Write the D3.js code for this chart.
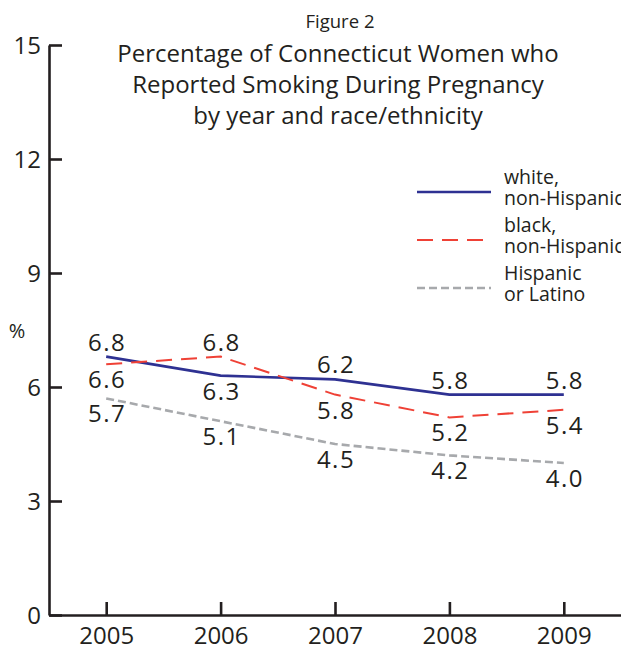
<!DOCTYPE html>
<html><head><meta charset="utf-8">
<script src="https://cdn.jsdelivr.net/npm/d3@7"></script>
<style>
html,body{margin:0;padding:0;background:#fff;}
svg text{font-family:"Open Sans",sans-serif;fill:#231F20;}
</style></head>
<body><svg id="c" width="621" height="648"></svg>
<script>
const years = [2005, 2006, 2007, 2008, 2009];
const yTicks = [0, 3, 6, 9, 12, 15];
const white = [6.8, 6.3, 6.2, 5.8, 5.8];
const black = [6.6, 6.8, 5.8, 5.2, 5.4];
const hispanic = [5.7, 5.1, 4.5, 4.2, 4.0];
const whiteLabelPos = ["above", "below", "above", "above", "above"];
const blackLabelPos = ["below", "above", "below", "below", "below"];
const hispLabelPos = ["below", "below", "below", "below", "below"];
const titleLines = ["Percentage of Connecticut Women who", "Reported Smoking During Pregnancy", "by year and race/ethnicity"];
const figLabel = "Figure 2";
const legendLabels = [["white,", "non-Hispanic"], ["black,", "non-Hispanic"], ["Hispanic", "or Latino"]];

const series = [
  {name: "white", values: white, pos: whiteLabelPos, color: "#2E3192", width: 2.6, dash: null},
  {name: "black", values: black, pos: blackLabelPos, color: "#EF4136", width: 2, dash: "16,9"},
  {name: "hisp", values: hispanic, pos: hispLabelPos, color: "#A7A9AC", width: 2.6, dash: "8,4"}
];

const svg = d3.select("#c");
const x = d3.scalePoint().domain(years).range([49, 621]).padding(0.5);
const y = d3.scaleLinear().domain([0, 15]).range([615, 45]);
const ink = "#231F20";

// Y axis
const ya = svg.append("g").attr("transform", "translate(49,0)")
  .call(d3.axisLeft(y).tickValues(yTicks).tickSizeInner(-13).tickSizeOuter(0).tickPadding(8));
ya.select(".domain").attr("stroke", ink).attr("stroke-width", 2.6);
ya.selectAll(".tick line").attr("stroke", ink).attr("stroke-width", 2.6);
ya.selectAll(".tick text").attr("font-size", 24).attr("font-family", "Open Sans").attr("fill", ink).attr("dy", "0.36em");

// X axis
const xa = svg.append("g").attr("transform", "translate(0,615)")
  .call(d3.axisBottom(x).tickSizeInner(-13).tickSizeOuter(0).tickPadding(12));
xa.select(".domain").attr("stroke", ink).attr("stroke-width", 2.6);
xa.selectAll(".tick line").attr("stroke", ink).attr("stroke-width", 2.6);
xa.selectAll(".tick text").attr("font-size", 24).attr("font-family", "Open Sans").attr("fill", ink);

// % label
svg.append("text").attr("x", 17).attr("y", 338).attr("text-anchor", "middle").attr("font-size", 20).text("%");

// Lines
const line = d3.line().x((d, i) => x(years[i])).y(d => y(d));
series.forEach(s => {
  svg.append("path").datum(s.values).attr("d", line)
    .attr("fill", "none").attr("stroke", s.color).attr("stroke-width", s.width)
    .attr("stroke-dasharray", s.dash);
});
// labels
series.forEach(s => {
  s.values.forEach((v, i) => {
    svg.append("text").attr("x", x(years[i]) + 1).attr("y", y(v) + (s.pos[i] === "above" ? -6 : 24))
      .attr("text-anchor", "middle").attr("font-size", 24).attr("letter-spacing", 1.5)
      .text(v.toFixed(1));
  });
});

// Title
svg.append("text").attr("x", 340).attr("y", 28).attr("text-anchor", "middle").attr("font-size", 18.5).text(figLabel);
titleLines.forEach((t, i) => {
  svg.append("text").attr("x", 338).attr("y", 62 + i * 31).attr("text-anchor", "middle").attr("font-size", 24).text(t);
});

// Legend
series.forEach((s, i) => {
  const ly = 192 + i * 48;
  svg.append("line").attr("x1", 417).attr("x2", 491).attr("y1", ly).attr("y2", ly)
    .attr("stroke", s.color).attr("stroke-width", s.width).attr("stroke-dasharray", s.dash);
  legendLabels[i].forEach((t, j) => {
    svg.append("text").attr("x", 504).attr("y", ly - 8 + j * 21).attr("font-size", 19.5).text(t);
  });
});
</script></body></html>
